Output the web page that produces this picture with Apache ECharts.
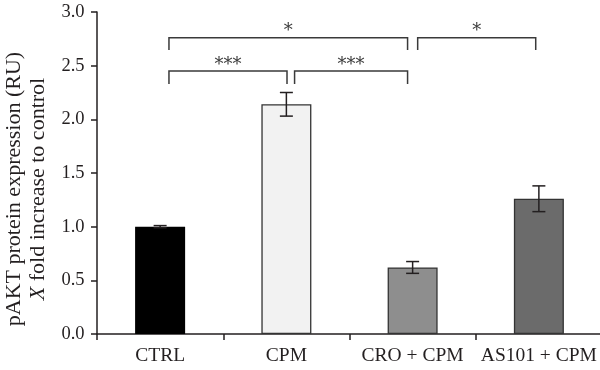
<!DOCTYPE html>
<html><head><meta charset="utf-8">
<script src="https://cdn.jsdelivr.net/npm/echarts@6/dist/echarts.min.js"></script>
<style>html,body{margin:0;padding:0;background:#fff}#c{width:600px;height:370px}</style>
</head><body><div id="c"></div>
<script>
var categories = ['CTRL', 'CPM', 'CRO + CPM', 'AS101 + CPM'];
var values = [1.00, 2.14, 0.62, 1.26];
var errors = [0.01, 0.11, 0.055, 0.12];
var barColors = ['#000000', '#f2f2f2', '#8e8e8e', '#6b6b6b'];
var yTicks = [0, 0.5, 1.0, 1.5, 2.0, 2.5, 3.0];
// significance brackets: [x start, x end, bar y, drop y, label]
var brackets = [
  [0.07, 1.005, 2.45, 2.33, '***'],
  [1.065, 1.96, 2.45, 2.33, '***'],
  [0.07, 1.96, 2.76, 2.645, '*'],
  [2.04, 2.975, 2.76, 2.645, '*']
];

var chart = echarts.init(document.getElementById('c'), null, {renderer: 'canvas'});
var FONT = '"Liberation Serif", "DejaVu Serif", serif';
var STARFONT = '"DejaVu Serif", serif';
var AX = '#231f20';

var errData = values.map(function (v, i) { return [i, v - errors[i], v + errors[i]]; });

chart.setOption({
  animation: false,
  backgroundColor: '#fff',
  grid: {left: 97, top: 12, bottom: 36, width: 505, containLabel: false, outerBoundsMode: 'none'},
  xAxis: [{
    type: 'category', data: categories,
    axisLine: {onZero: false, lineStyle: {color: AX, width: 1.5}},
    axisTick: {show: true, length: 6, lineStyle: {color: AX, width: 1.5}},
    axisLabel: {color: '#231f20', fontFamily: FONT, fontSize: 19.5, margin: 12, interval: 0, hideOverlap: false}
  }, {
    type: 'value', min: -0.5, max: 3.5, show: false
  }],
  yAxis: {
    type: 'value', min: yTicks[0], max: yTicks[yTicks.length - 1], interval: 0.5,
    axisLine: {show: true, onZero: false, lineStyle: {color: AX, width: 1.5}},
    axisTick: {show: true, length: 6, lineStyle: {color: AX, width: 1.5}},
    splitLine: {show: false},
    axisLabel: {color: '#231f20', fontFamily: FONT, fontSize: 18.5, margin: 12.5,
      formatter: function (v) { return v.toFixed(1); }},
    name: '{n|pAKT protein expression (RU)}\n{i|X}{n| fold increase to control}',
    nameLocation: 'middle', nameGap: 46, nameRotate: 90,
    nameTextStyle: {
      fontFamily: FONT, fontSize: 22, color: '#231f20', lineHeight: 24, align: 'center',
      padding: [0, 32, 0, 0],
      rich: {
        n: {fontFamily: FONT, fontSize: 22, color: '#231f20', lineHeight: 24},
        i: {fontFamily: FONT, fontSize: 22, color: '#231f20', fontStyle: 'italic', lineHeight: 24}
      }
    }
  },
  series: [{
    type: 'bar', barWidth: 50,
    data: values.map(function (v, i) {
      return {value: v, itemStyle: {color: barColors[i], borderColor: i === 0 ? '#000' : '#333', borderWidth: 1.3}};
    })
  }, {
    type: 'custom', xAxisIndex: 1, data: errData, z: 5,
    renderItem: function (params, api) {
      var x = api.value(0);
      var lo = api.coord([x, api.value(1)]);
      var hi = api.coord([x, api.value(2)]);
      var w = 6.5;
      var st = {stroke: '#231f20', lineWidth: 1.5, fill: null};
      return {type: 'group', children: [
        {type: 'line', shape: {x1: lo[0], y1: lo[1], x2: hi[0], y2: hi[1]}, style: st},
        {type: 'line', shape: {x1: hi[0] - w, y1: hi[1], x2: hi[0] + w, y2: hi[1]}, style: st},
        {type: 'line', shape: {x1: lo[0] - w, y1: lo[1], x2: lo[0] + w, y2: lo[1]}, style: st}
      ]};
    }
  }, {
    type: 'custom', xAxisIndex: 1, data: brackets, z: 5,
    renderItem: function (params, api) {
      var b = brackets[params.dataIndex];
      var p1 = api.coord([b[0], b[3]]);
      var p2 = api.coord([b[0], b[2]]);
      var p3 = api.coord([b[1], b[2]]);
      var p4 = api.coord([b[1], b[3]]);
      return {type: 'group', children: [
        {type: 'polyline', shape: {points: [p1, p2, p3, p4]},
          style: {stroke: '#3a3a3a', lineWidth: 1.5, fill: null}},
        {type: 'text', style: {text: b[4], x: (p2[0] + p3[0]) / 2, y: p2[1] - 6,
          textAlign: 'center', textVerticalAlign: 'middle',
          font: '18px ' + STARFONT, fill: '#3a3a3a'}}
      ]};
    }
  }]
});
</script>
</body></html>
